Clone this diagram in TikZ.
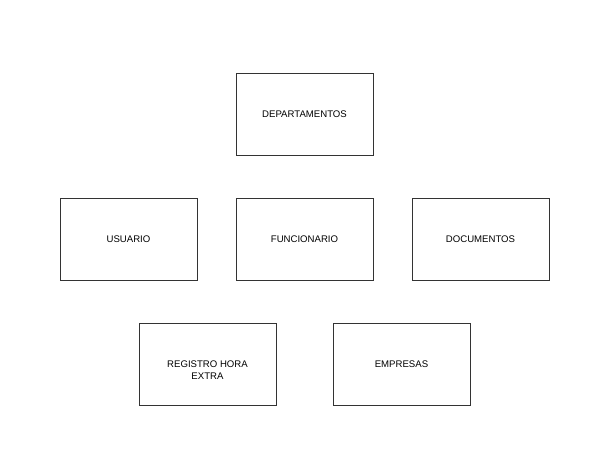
\documentclass[tikz,border=0pt]{standalone}
\usepackage{fontspec}
\setmainfont{Liberation Sans}
\usetikzlibrary{positioning}

\newcommand{\lowtext}[1]{\raisebox{-6.5pt}[\height][\depth]{\begin{tabular}{@{}c@{}}#1\end{tabular}}}

\begin{document}
\begin{tikzpicture}[x=1pt,y=1pt,node distance=125pt,on grid,
        entity/.style={draw=black!80,line width=0.9pt,minimum width=137pt,minimum height=82pt,
          align=center,font=\fontsize{9.6}{12}\selectfont}]
        \useasboundingbox (-304.5,114) rectangle (291.5,-360);

        \node[entity] (dep) {DEPARTAMENTOS};

        \node[entity] (func) [below=of dep] {FUNCIONARIO};
        \node[entity] (usu) [left=of func, xshift=-51pt] {USUARIO};
        \node[entity] (doc) [right=of func, xshift=51pt] {DOCUMENTOS};

        \node[entity] (reg) [below=of func, xshift=-97pt, yshift=-0.5pt] {\lowtext{REGISTRO HORA\\EXTRA}};
        \node[entity] (emp) [below=of func, xshift=97pt, yshift=-0.5pt] {EMPRESAS};

      \end{tikzpicture}
\end{document}
